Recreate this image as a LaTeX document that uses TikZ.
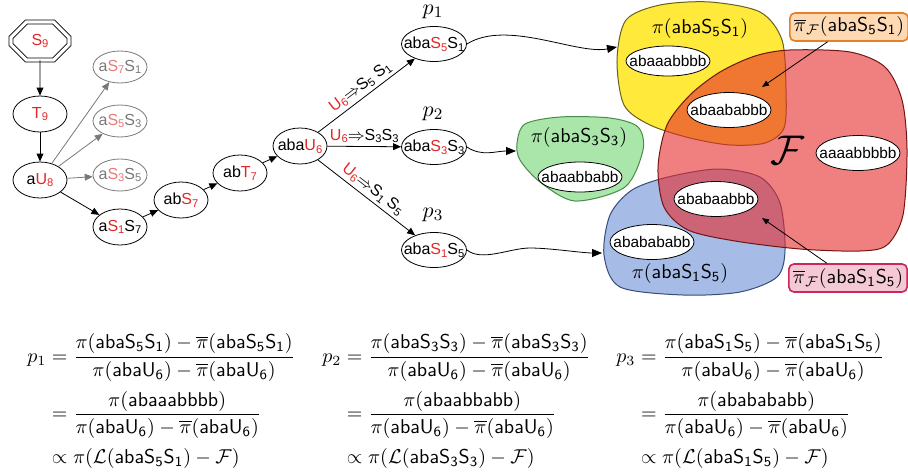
\documentclass[tikz,border=0pt]{standalone}
\usepackage{amsmath}
\usepackage{fontspec}
\newfontfamily\arial{Liberation Sans}
\usetikzlibrary{shapes.geometric,shapes.misc,arrows.meta}

\definecolor{ntred}{RGB}{224,40,40}
\definecolor{ntpale}{RGB}{236,120,120}
\definecolor{ghostgray}{RGB}{120,120,120}
\definecolor{yellowset}{RGB}{255,233,58}
\definecolor{yellowline}{RGB}{105,95,30}
\definecolor{blueset}{RGB}{166,187,230}
\definecolor{blueline}{RGB}{55,75,125}
\definecolor{greenset}{RGB}{170,230,170}
\definecolor{greenline}{RGB}{70,140,70}
\definecolor{fset}{RGB}{230,43,43}
\definecolor{fline}{RGB}{115,20,20}
\definecolor{peach}{RGB}{253,218,180}
\definecolor{peachline}{RGB}{230,128,40}
\definecolor{rose}{RGB}{245,200,214}
\definecolor{roseline}{RGB}{200,40,90}

\newcommand{\lowidx}[1]{\raisebox{-0.3ex}{\fontsize{5.6}{6}\selectfont#1}}
\newcommand{\ntsym}[2]{\textcolor{ntred}{#1\lowidx{#2}}}
\newcommand{\palesym}[2]{\textcolor{ntpale}{#1\lowidx{#2}}}
\newcommand{\tsym}[2]{#1\lowidx{#2}}
\newcommand{\wrd}[1]{\mathsf{#1}}

\tikzset{
  state/.style={ellipse, draw, inner xsep=-4pt, inner ysep=-1pt, minimum width=27pt,
    minimum height=18pt, font=\arial\fontsize{8}{9.6}\selectfont},
  startbox/.style={draw, chamfered rectangle, chamfered rectangle xsep=5pt,
    chamfered rectangle ysep=5pt, double, double distance=1.6pt, inner sep=0pt,
    minimum width=29pt, minimum height=19pt, font=\arial\fontsize{8}{9.6}\selectfont},
  ghost/.style={state, draw=ghostgray, text=ghostgray, minimum height=16pt},
  sentence/.style={state, minimum width=32.5pt, minimum height=17.5pt},
  word/.style={ellipse, draw, fill=white, inner xsep=-4.5pt, inner ysep=-1pt,
    minimum width=42pt, minimum height=15pt, font=\arial\fontsize{7.7}{9}\selectfont},
  wordtall/.style={word, minimum height=17.5pt},
  rulelab/.style={font=\arial\fontsize{8}{9.6}\selectfont, inner sep=1.5pt},
  derive/.style={-{Triangle[length=4pt,width=3.4pt]}},
  wave/.style={-{Triangle[length=5pt,width=4pt]}},
  setline/.style={line width=0.5pt},
  callout/.style={rounded corners=2.5pt, line width=0.8pt, inner sep=2pt},
  pointer/.style={-{Triangle[length=3.5pt,width=2.8pt]}}
}

\begin{document}
\begin{tikzpicture}[x=0.5pt,y=-0.5pt]
  \useasboundingbox (0,0) rectangle (908,471);

  % derivation graph
  \node[startbox] (s9) at (40,41) {\ntsym{S}{9}};
  \node[state] (t9) at (40,114) {\ntsym{T}{9}};
  \node[state] (u8) at (40,180) {a\ntsym{U}{8}};
  \node[ghost] (g71) at (120,67) {a\palesym{S}{7}\tsym{S}{1}};
  \node[ghost] (g53) at (120,121) {a\palesym{S}{5}\tsym{S}{3}};
  \node[ghost] (g35) at (120,175) {a\palesym{S}{3}\tsym{S}{5}};
  \node[state] (s17) at (120,227) {a\ntsym{S}{1}\tsym{S}{7}};
  \node[state] (bs7) at (181,200) {ab\ntsym{S}{7}};
  \node[state] (bt7) at (240,173) {ab\ntsym{T}{7}};
  \node[state] (u6) at (300,146) {aba\ntsym{U}{6}};
  \node[sentence] (s51) at (434,44) {aba\ntsym{S}{5}\tsym{S}{1}};
  \node[sentence] (s33) at (434,147) {aba\ntsym{S}{3}\tsym{S}{3}};
  \node[sentence] (s15) at (434,250) {aba\ntsym{S}{1}\tsym{S}{5}};
  \node[font=\fontsize{11}{13}\selectfont] (p1) at (433,12) {$p_1$};
  \node[font=\fontsize{11}{13}\selectfont] (p2) at (433,114) {$p_2$};
  \node[font=\fontsize{11}{13}\selectfont] (p3) at (433,215) {$p_3$};

  \draw[derive] (s9) -- (t9);
  \draw[derive] (t9) -- (u8);
  \draw[derive, ghostgray] (u8) -- (g71);
  \draw[derive, ghostgray] (u8) -- (g53);
  \draw[derive, ghostgray] (u8) -- (g35);
  \draw[derive] (u8) -- (s17);
  \draw[derive] (s17) -- (bs7);
  \draw[derive] (bs7) -- (bt7);
  \draw[derive] (bt7) -- (u6);
  \draw[derive] (u6) -- node[rulelab, sloped, above]
    {\ntsym{U}{6}$\Rightarrow$\tsym{S}{5} \tsym{S}{1}} (s51);
  \draw[derive] (u6) -- node[rulelab, above]
    {\ntsym{U}{6}$\Rightarrow$\tsym{S}{3}\tsym{S}{3}} (s33);
  \draw[derive] (u6) -- node[rulelab, sloped, above]
    {\ntsym{U}{6}$\Rightarrow$\tsym{S}{1} \tsym{S}{5}} (s15);

  % language sets
  \filldraw[setline, fill=yellowset, draw=yellowline] plot[smooth cycle] coordinates
    {(617,60) (626,20) (660,5) (710,2) (760,12) (782,40) (786,90) (784,128)
     (765,143) (730,145) (690,138) (650,125) (624,105)};
  \filldraw[setline, fill=blueset, draw=blueline] plot[smooth cycle] coordinates
    {(604,255) (610,215) (632,190) (668,177) (718,169) (760,177) (780,203)
     (785,250) (777,277) (740,292) (683,295) (620,287)};
  \filldraw[setline, fill=greenset, draw=greenline] plot[smooth cycle] coordinates
    {(517,143) (525,124) (560,117) (610,118) (638,127) (643,150) (625,187)
     (575,201) (540,182) (520,160)};
  \filldraw[setline, fill=fset, fill opacity=0.6, draw=fline] plot[smooth cycle] coordinates
    {(658,167) (667,125) (690,95) (720,72) (755,56) (790,50) (850,52) (885,67)
     (902,100) (907,150) (903,215) (887,245) (860,251) (800,249) (735,241)
     (688,230) (664,207)};

  \node (ylab) at (700,28) {$\pi(\wrd{abaS_5S_1})$};
  \node (glab) at (579,137) {$\pi(\wrd{abaS_3S_3})$};
  \node (blab) at (680,273) {$\pi(\wrd{abaS_1S_5})$};
  \node (flab) at (787,150) {\huge$\mathcal{F}$};

  \node[word] (wy) at (668,61) {abaaabbbb};
  \node[wordtall] (wo) at (729,110) {abaababbb};
  \node[word] (wg) at (580,177) {abaabbabb};
  \node[wordtall] (wf) at (858,153) {aaaabbbbb};
  \node[wordtall] (wr) at (716,199) {ababaabbb};
  \node[wordtall] (wb) at (652,242) {ababababb};

  % sentences into their sets
  \coordinate (y1) at (617,47);
  \coordinate (g1) at (516,151);
  \coordinate (w3mid) at (530,248);
  \coordinate (b1) at (602,253);
  \draw[wave] (s51.east) .. controls +(40,-25) and +(-40,8) .. (y1);
  \draw[wave] (s33.east) .. controls +(15,10) and +(-20,0) .. (g1);
  \draw[wave] (s15.east) .. controls +(15,12) and +(-20,0) .. (w3mid)
    .. controls +(20,0) and +(-20,0) .. (b1);

  % callouts
  \node[callout, fill=peach, draw=peachline] (c51) at (849,27)
    {$\overline{\pi}_{\mathcal{F}}(\wrd{abaS_5S_1})$};
  \node[callout, fill=rose, draw=roseline] (c15) at (848,278)
    {$\overline{\pi}_{\mathcal{F}}(\wrd{abaS_1S_5})$};
  \coordinate (c51tip) at (762,87);
  \coordinate (c15tip) at (762,218);
  \draw[pointer] (c51) -- (c51tip);
  \draw[pointer] (c15) -- (c15tip);

  % probabilities
  \node[anchor=west, inner sep=0pt] (eq1) at (27,402) {$\begin{aligned}
    p_1 &= \frac{\pi(\wrd{abaS_5S_1}) - \overline{\pi}(\wrd{abaS_5S_1})}{\pi(\wrd{abaU_6}) - \overline{\pi}(\wrd{abaU_6})}\\[1pt]
        &= \frac{\pi(\wrd{abaaabbbb})}{\pi(\wrd{abaU_6}) - \overline{\pi}(\wrd{abaU_6})}\\
        &\propto \pi(\mathcal{L}(\wrd{abaS_5S_1}) - \mathcal{F})
  \end{aligned}$};
  \node[anchor=west, inner sep=0pt] (eq2) at (322,402) {$\begin{aligned}
    p_2 &= \frac{\pi(\wrd{abaS_3S_3}) - \overline{\pi}(\wrd{abaS_3S_3})}{\pi(\wrd{abaU_6}) - \overline{\pi}(\wrd{abaU_6})}\\[1pt]
        &= \frac{\pi(\wrd{abaabbabb})}{\pi(\wrd{abaU_6}) - \overline{\pi}(\wrd{abaU_6})}\\
        &\propto \pi(\mathcal{L}(\wrd{abaS_3S_3}) - \mathcal{F})
  \end{aligned}$};
  \node[anchor=west, inner sep=0pt] (eq3) at (616,402) {$\begin{aligned}
    p_3 &= \frac{\pi(\wrd{abaS_1S_5}) - \overline{\pi}(\wrd{abaS_1S_5})}{\pi(\wrd{abaU_6}) - \overline{\pi}(\wrd{abaU_6})}\\[1pt]
        &= \frac{\pi(\wrd{ababababb})}{\pi(\wrd{abaU_6}) - \overline{\pi}(\wrd{abaU_6})}\\
        &\propto \pi(\mathcal{L}(\wrd{abaS_1S_5}) - \mathcal{F})
  \end{aligned}$};
\end{tikzpicture}
\end{document}
